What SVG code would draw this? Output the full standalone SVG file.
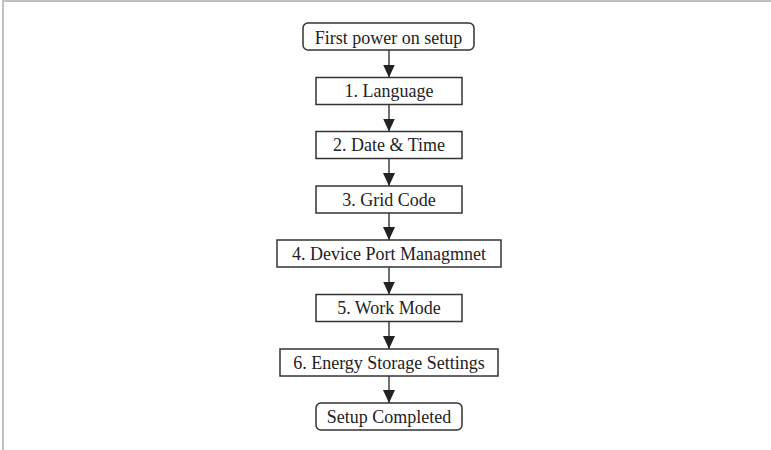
<svg xmlns="http://www.w3.org/2000/svg" width="771" height="450" viewBox="0 0 771 450">
<defs>
<style>
.box{fill:#fff;stroke:#333;stroke-width:1.5}
.lbl{font-family:"Liberation Serif","Times New Roman",serif;font-size:18px;fill:#222;text-anchor:middle}
.conn{stroke:#333;stroke-width:1.4;fill:none}
.frame{fill:#c0c0c0}
</style>
<marker id="ah" viewBox="0 0 13 12" refX="13" refY="6" markerWidth="13" markerHeight="12" markerUnits="userSpaceOnUse" orient="auto">
<path d="M0,0 L13,6 L0,12 Z" fill="#222"/>
</marker>
</defs>
<rect width="771" height="450" fill="#fff"/>
<rect class="frame" x="2" y="0" width="769" height="2"/>
<rect class="frame" x="2" y="0" width="2" height="450"/>
<g id="connectors">
<line class="conn" x1="389" y1="50" x2="389" y2="77.5" marker-end="url(#ah)"/>
<line class="conn" x1="389" y1="104.5" x2="389" y2="131.5" marker-end="url(#ah)"/>
<line class="conn" x1="389" y1="158.5" x2="389" y2="186" marker-end="url(#ah)"/>
<line class="conn" x1="389" y1="213" x2="389" y2="240" marker-end="url(#ah)"/>
<line class="conn" x1="389" y1="267" x2="389" y2="294.5" marker-end="url(#ah)"/>
<line class="conn" x1="389" y1="321.5" x2="389" y2="349" marker-end="url(#ah)"/>
<line class="conn" x1="389" y1="376" x2="389" y2="403" marker-end="url(#ah)"/>
</g>
<g id="start">
<rect class="box" x="303" y="23" width="171" height="27" rx="5"/>
<text class="lbl" x="388.5" y="43.5">First power on setup</text>
</g>
<g id="language">
<rect class="box" x="316" y="77.5" width="146" height="27"/>
<text class="lbl" x="389" y="97">1. Language</text>
</g>
<g id="datetime">
<rect class="box" x="316" y="131.5" width="146" height="27"/>
<text class="lbl" x="389" y="151">2. Date &amp; Time</text>
</g>
<g id="gridcode">
<rect class="box" x="316" y="186" width="146" height="27"/>
<text class="lbl" x="389" y="205.5">3. Grid Code</text>
</g>
<g id="deviceport">
<rect class="box" x="277" y="240" width="224" height="27"/>
<text class="lbl" x="389" y="259.5">4. Device Port Managmnet</text>
</g>
<g id="workmode">
<rect class="box" x="316" y="294.5" width="146" height="27"/>
<text class="lbl" x="389" y="314">5. Work Mode</text>
</g>
<g id="energystorage">
<rect class="box" x="280" y="349" width="218" height="27"/>
<text class="lbl" x="389" y="368.5">6. Energy Storage Settings</text>
</g>
<g id="completed">
<rect class="box" x="316" y="403" width="146" height="27" rx="5"/>
<text class="lbl" x="389" y="422.5">Setup Completed</text>
</g>
</svg>
